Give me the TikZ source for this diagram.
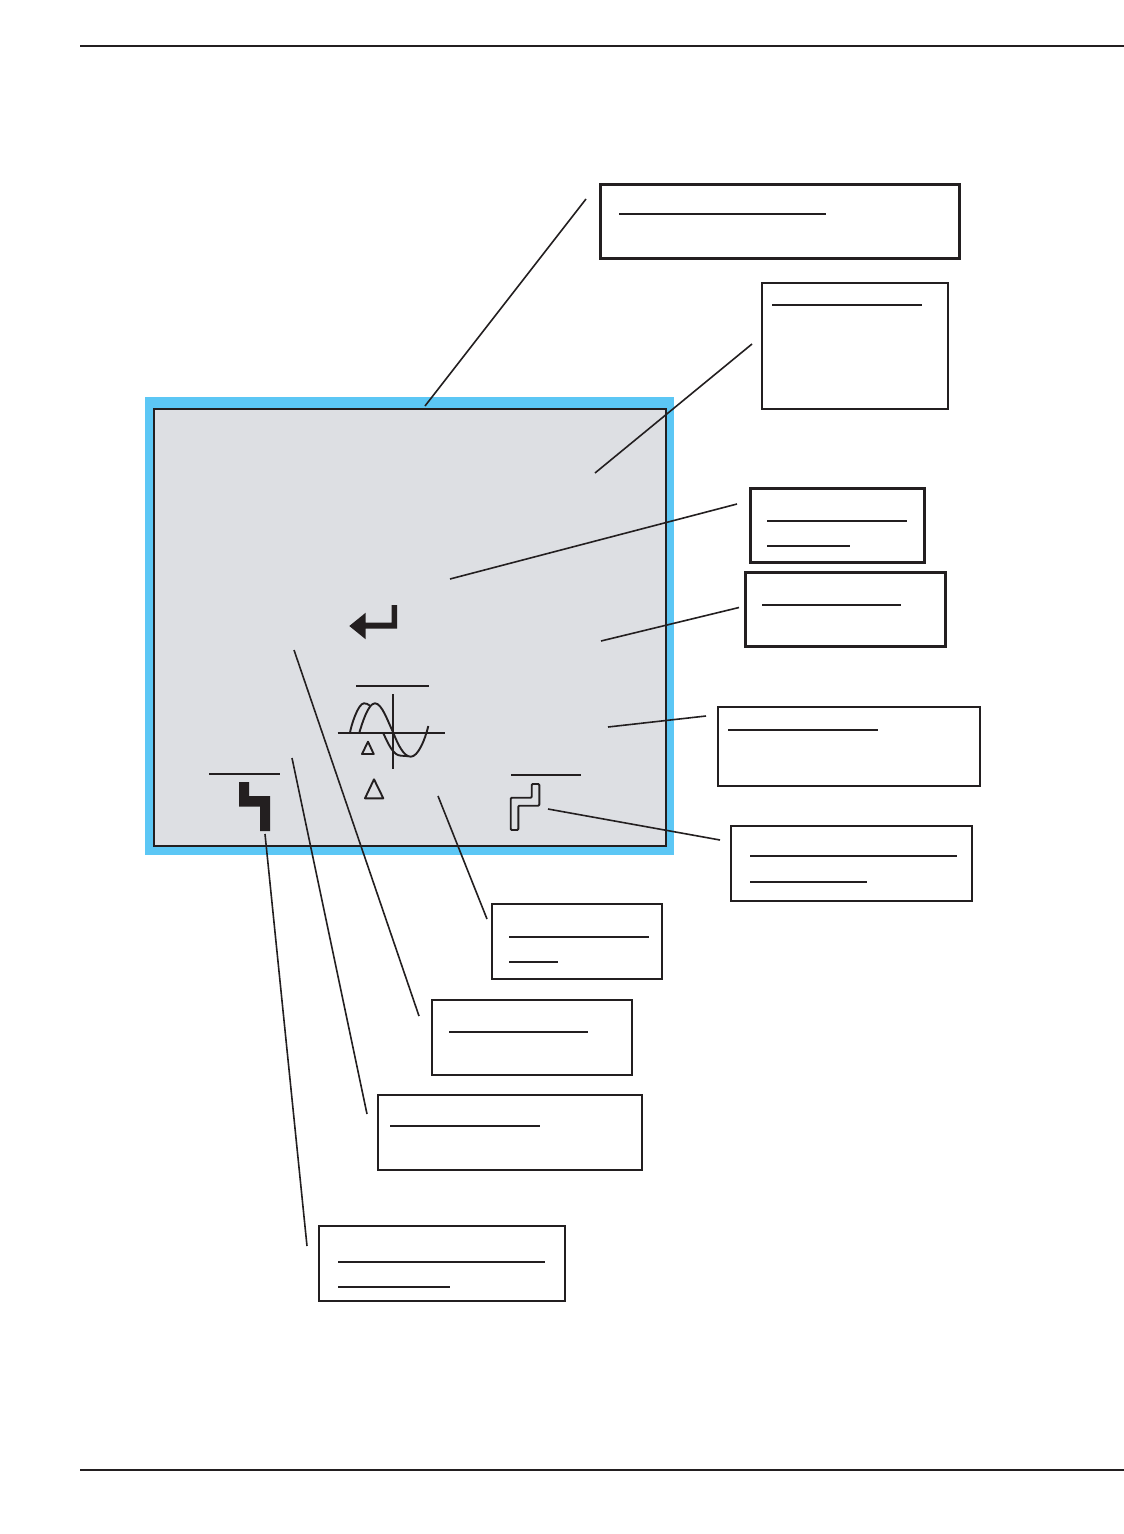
\documentclass[tikz,border=0pt]{standalone}
\definecolor{ink}{HTML}{231F20}
\definecolor{frameblue}{HTML}{5CC7F5}
\definecolor{panelgrey}{HTML}{DDDFE3}
\tikzset{
  callout/.style={draw=ink,fill=white,line width=1.7pt,inner sep=0pt,outer sep=0pt},
  calloutheavy/.style={callout,line width=3pt},
  leader/.style={draw=ink,line width=1.6pt},
  textbar/.style={draw=ink,line width=2pt},
  glyph/.style={draw=ink,line width=1.9pt,line join=round},
  rule/.style={draw=ink,line width=2pt}
}
\newcommand{\boxat}[6]{% style,name,x1,y1,x2,y2
  \node[#1,anchor=north west,minimum width=#5pt-#3pt,minimum height=#6pt-#4pt] (#2) at (#3,#4) {};}
\begin{document}
\begin{tikzpicture}[x=1pt,y=-1pt]
\useasboundingbox (0,0) rectangle (1124,1534);
\fill[white] (0,0) rectangle (1124,1534);
% page rules
\draw[rule] (80,45.5) -- (1124,45.5);
\draw[rule] (80,1470) -- (1124,1470);
% panel
\fill[frameblue] (145,397) rectangle (674,855);
\draw[draw=ink,fill=panelgrey,line width=2pt] (154,408.5) rectangle (666,846);
% boxes
\boxat{calloutheavy}{a}{600}{184}{959}{258.7}
\boxat{callout}{b}{762}{283}{948}{409}
\boxat{calloutheavy}{c}{750}{488.5}{924}{562.7}
\boxat{calloutheavy}{d}{745}{572.5}{945}{646.7}
\boxat{callout}{e}{718}{707}{979.7}{785.7}
\boxat{callout}{f}{731}{826}{971.7}{900.7}
\boxat{callout}{g}{492}{904}{661.7}{978.7}
\boxat{callout}{h}{432}{1000}{631.7}{1074.7}
\boxat{callout}{i}{378}{1095}{641.7}{1169.7}
\boxat{callout}{j}{319}{1226}{564.7}{1300.7}
% text bars
\draw[textbar] (619,213.5) -- (826,213.5);
\draw[textbar] (772,305) -- (922,305);
\draw[textbar] (767,520.5) -- (907,520.5);
\draw[textbar] (767,546) -- (850,546);
\draw[textbar] (762,605) -- (901,605);
\draw[textbar] (728,729.5) -- (878,729.5);
\draw[textbar] (750,856) -- (957,856);
\draw[textbar] (750,882) -- (867,882);
\draw[textbar] (509,937) -- (649,937);
\draw[textbar] (509,961.5) -- (558,961.5);
\draw[textbar] (449,1032) -- (588,1032);
\draw[textbar] (390,1126) -- (540,1126);
\draw[textbar] (338,1261.5) -- (545,1261.5);
\draw[textbar] (338,1286.5) -- (450,1286.5);
\draw[textbar] (209,774) -- (280,774);
\draw[textbar] (511,775) -- (581,775);
\draw[textbar] (356,685.7) -- (429,685.7);
% leader ends
\coordinate (a1) at (586,199);   \coordinate (a2) at (425,406);
\coordinate (b1) at (752,344);   \coordinate (b2) at (595,473);
\coordinate (c1) at (737,504);   \coordinate (c2) at (450,579);
\coordinate (d1) at (739,607.5); \coordinate (d2) at (601,641);
\coordinate (e1) at (706,716);   \coordinate (e2) at (608,727);
\coordinate (f1) at (720,840);   \coordinate (f2) at (548,809);
\coordinate (g1) at (487,919);   \coordinate (g2) at (438,796);
\coordinate (h1) at (419,1016);  \coordinate (h2) at (294,650);
\coordinate (i1) at (367,1114);  \coordinate (i2) at (292,758);
\coordinate (j1) at (307,1246);  \coordinate (j2) at (265,834);
\foreach \n in {a,b,c,d,e,f,g,h,i,j} \draw[leader] (\n1) -- (\n2);
% enter arrow
\fill[ink] (349.3,626) -- (365.7,612.7) -- (365.7,622.7) -- (391.7,622.7) -- (391.7,605) -- (397,605) -- (397,628.7) -- (365.7,628.7) -- (365.7,639.3) -- cycle;
% waveform
\draw[glyph] (337.7,732.7) -- (445,732.7);
\draw[glyph] (393.3,694.3) -- (393.3,769);
\draw[glyph] (350,732.7) .. controls (351,726) and (358,703.3) .. (364,703.3) .. controls (366,703.3) and (368,704) .. (370,705.7);
\draw[glyph] (359.3,732.7) .. controls (362,724) and (368,703.3) .. (375,703.3) .. controls (382,703.3) and (388,722) .. (393.3,732.7) .. controls (398,745) and (404,756.7) .. (410.7,756.7) .. controls (418,756.7) and (425,740) .. (428.3,726);
\draw[glyph] (383.3,733.3) .. controls (388,743) and (393,755.7) .. (401,755.7) .. controls (404,755.7) and (406,756) .. (408,756.2);
% triangles
\draw[glyph] (368,741.7) -- (362,754) -- (373.7,754) -- cycle;
\draw[glyph] (374,779.3) -- (365,798.3) -- (383.3,798.3) -- cycle;
% step glyphs
\fill[ink] (239,782) -- (249,782) -- (249,796) -- (270,796) -- (270,831) -- (260,831) -- (260,806.7) -- (239,806.7) -- cycle;
\draw[glyph,rounded corners=1pt] (510.7,797.7) -- (531.7,797.7) -- (531.7,784) -- (539.3,784) -- (539.3,805.7) -- (518.3,805.7) -- (518.3,830) -- (510.7,830) -- cycle;
\end{tikzpicture}
\end{document}
